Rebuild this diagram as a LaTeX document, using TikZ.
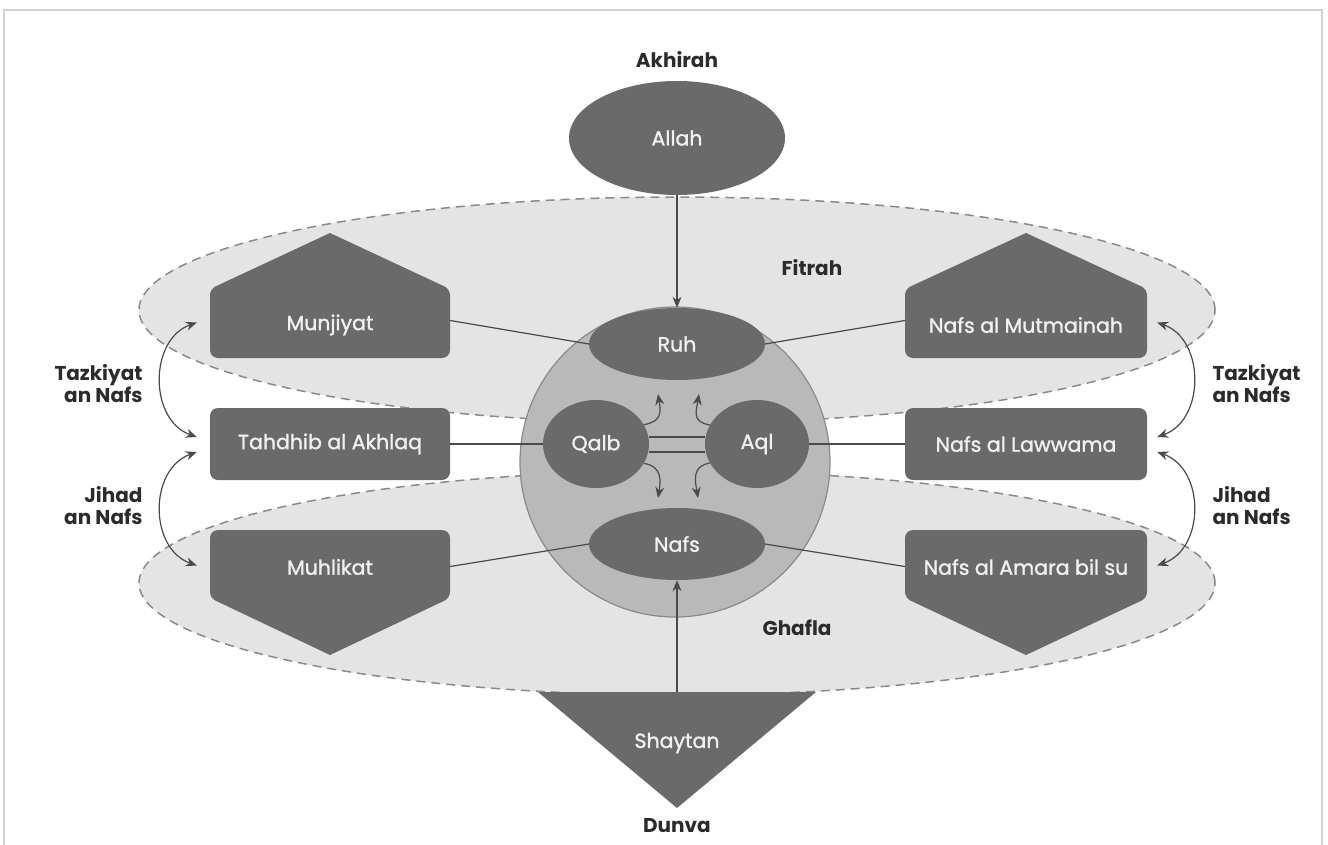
\documentclass[tikz,border=0pt]{standalone}
\usepackage{fontspec}
\setmainfont{Poppins}
\newfontfamily\medfont{Poppins}[FakeBold=1.4]
\usetikzlibrary{arrows.meta,shapes.geometric}
\definecolor{dgray}{HTML}{6A6A6A}
\definecolor{cgray}{HTML}{B9B9B9}
\definecolor{lgray}{HTML}{E4E4E4}
\definecolor{edgec}{HTML}{8A8A8A}
\definecolor{ink}{HTML}{2B2B2B}
\definecolor{linec}{HTML}{4A4A4A}
\begin{document}
\begin{tikzpicture}[x=1pt,y=-1pt,
  shapetext/.style={text=white!94!black, font=\medfont\fontsize{20.5}{22}\selectfont},
  box/.style={shapetext, fill=dgray, rounded corners=8pt, minimum width=240pt, inner sep=0pt},
  slot/.style={shapetext, minimum width=240pt, inner sep=0pt},
  house/.style={fill=dgray},
  oval/.style={shapetext, ellipse, fill=dgray, inner sep=0pt},
  zone/.style={ellipse, fill=lgray, draw=edgec, line width=1.5pt, dash pattern=on 9pt off 6pt, minimum width=1076pt, inner sep=0pt},
  lbl/.style={text=ink, font=\bfseries\fontsize{20}{22}\selectfont},
  conn/.style={draw=linec, line width=1.2pt},
  tip/.style={-{Stealth[length=11pt,width=9pt]}},
  dtip/.style={{Stealth[length=11pt,width=9pt]}-{Stealth[length=11pt,width=9pt]}}
]
\useasboundingbox (0,0) rectangle (1328,844);
\fill[white] (0,0) rectangle (1328,844);
\draw[gray!35, line width=1.5pt] (4,10) rectangle (1322,850);

% zones
\node[zone, minimum height=226pt] (Fitrah) at (677,310) {};
\node[zone, minimum height=224pt] (Ghafla) at (677,583) {};

% Shaytan triangle
\fill[dgray] (538,692) -- (816,692) -- (677,808) -- cycle;
\node[shapetext] (Shaytan) at (677,743) {Shaytan};
\coordinate (ShTop) at (677,692);

% central sphere
\node[circle, fill=cgray, draw=edgec, line width=1.2pt, minimum size=310pt, inner sep=0pt] (Sphere) at (675,462) {};

% left boxes
\fill[house] (330,233) [rounded corners=6pt] -- (450,289) [rounded corners=8pt] -- (450,358) -- (210,358) [rounded corners=6pt] -- (210,289) [sharp corners] -- cycle;
\node[slot, minimum height=75pt] (Munj) at (330,320.5) {};
\node[shapetext] at (330,325) {Munjiyat};
\node[box, minimum height=72pt] (Tah) at (330,444) {Tahdhib al Akhlaq};
\fill[house] (330,655) [rounded corners=6pt] -- (210,598) [rounded corners=8pt] -- (210,530) -- (450,530) [rounded corners=6pt] -- (450,598) [sharp corners] -- cycle;
\node[slot, minimum height=73pt] (Muhl) at (330,566.5) {};
\node[shapetext] at (330,567) {Muhlikat};

% right boxes
\fill[house] (1026,233) [rounded corners=6pt] -- (1147,289) [rounded corners=8pt] -- (1147,358) -- (905,358) [rounded corners=6pt] -- (905,289) [sharp corners] -- cycle;
\node[slot, minimum width=242pt, minimum height=75pt] (Mut) at (1026,320.5) {};
\node[shapetext] at (1026,325) {Nafs al Mutmainah};
\node[box, minimum width=242pt, minimum height=72pt] (Law) at (1026,444) {Nafs al Lawwama};
\fill[house] (1026,655) [rounded corners=6pt] -- (905,598) [rounded corners=8pt] -- (905,530) -- (1147,530) [rounded corners=6pt] -- (1147,598) [sharp corners] -- cycle;
\node[slot, minimum width=242pt, minimum height=73pt] (Amara) at (1026,566.5) {};
\node[shapetext] at (1026,567) {Nafs al Amara bil su};

% connectors behind inner ovals
\draw[conn] (Munj.east) -- (677-88,344);
\draw[conn] (Mut.west) -- (677+88,344);
\draw[conn] (Muhl.east) -- (677-88,544);
\draw[conn] (Amara.west) -- (677+88,544);
\draw[conn] (Tah.east) -- (596-53,444);
\draw[conn] (Law.west) -- (757+52,444);

% inner ovals
\node[oval, minimum width=176pt, minimum height=72pt] (Ruh) at (677,344) {Ruh};
\node[oval, minimum width=176pt, minimum height=72pt] (Nafs) at (677,544) {Nafs};
\node[oval, minimum width=106pt, minimum height=88pt] (Qalb) at (596,444) {Qalb};
\node[oval, minimum width=104pt, minimum height=88pt] (Aql) at (757,444) {Aql};

% Allah
\node[oval, minimum width=216pt, minimum height=114pt] (Allah) at (677,138) {Allah};

% double line Qalb-Aql
\draw[conn] ([yshift=7pt]Qalb.east) -- ([yshift=7pt]Aql.west);
\draw[conn] ([yshift=-8pt]Qalb.east) -- ([yshift=-8pt]Aql.west);

% small curved arrows
\coordinate (ulTip) at (658,394);
\coordinate (urTip) at (699,394);
\coordinate (llTip) at (658,498);
\coordinate (lrTip) at (698,498);
\draw[conn, tip] (Qalb.22) .. controls +(18,-3) and +(3,18) .. (ulTip);
\draw[conn, tip] (Aql.158) .. controls +(-18,-3) and +(-3,18) .. (urTip);
\draw[conn, tip] (Qalb.-22) .. controls +(18,3) and +(3,-18) .. (llTip);
\draw[conn, tip] (Aql.202) .. controls +(-18,3) and +(-3,-18) .. (lrTip);

% main vertical arrows
\draw[conn, tip] (Allah) -- (Ruh);
\draw[conn, tip] (ShTop) -- (Nafs);

% side double arrows
\draw[conn, dtip] ([xshift=-13pt,yshift=-2pt]Munj.west) .. controls +(-48,17) and +(-48,-17) .. ([xshift=-13pt,yshift=7pt]Tah.west);
\draw[conn, dtip] ([xshift=-13pt,yshift=-8pt]Tah.west) .. controls +(-48,17) and +(-48,-17) .. ([xshift=-13pt,yshift=1pt]Muhl.west);
\draw[conn, dtip] ([xshift=10pt,yshift=-2pt]Mut.east) .. controls +(48,17) and +(48,-17) .. ([xshift=10pt,yshift=7pt]Law.east);
\draw[conn, dtip] ([xshift=10pt,yshift=-8pt]Law.east) .. controls +(48,17) and +(48,-17) .. ([xshift=10pt,yshift=1pt]Amara.east);

% labels
\node[lbl] (Akhirah) at (677,60) {Akhirah};
\node[lbl] (FitrahL) at (812,268) {Fitrah};
\node[lbl] (GhaflaL) at (797,628) {Ghafla};
\node[lbl] (Dunva) at (677,826) {Dunva};
\node[lbl, align=right, anchor=east] (TzL) at (146,384) {Tazkiyat\\an Nafs};
\node[lbl, align=right, anchor=east] (JhL) at (146,506) {Jihad\\an Nafs};
\node[lbl, align=left, anchor=west] (TzR) at (1209,384) {Tazkiyat\\an Nafs};
\node[lbl, align=left, anchor=west] (JhR) at (1209,506) {Jihad\\an Nafs};
\end{tikzpicture}
\end{document}
